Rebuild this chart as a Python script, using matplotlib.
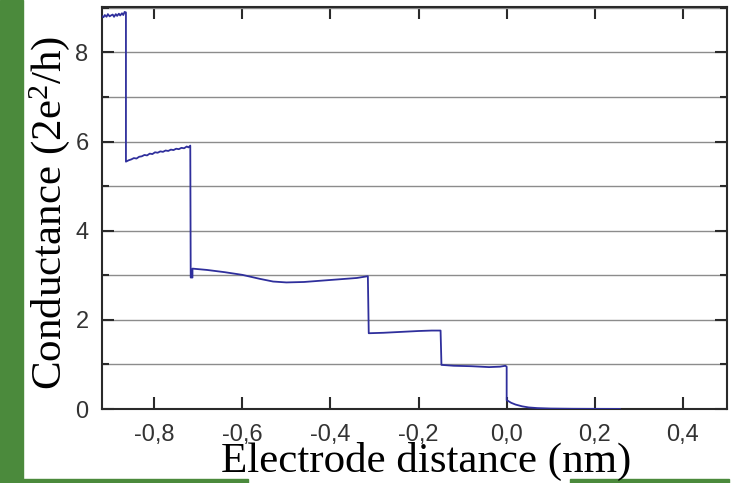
import matplotlib
matplotlib.use('Agg')
import matplotlib.pyplot as plt
from matplotlib.patches import Rectangle
from matplotlib.ticker import MultipleLocator, FuncFormatter

# conductance trace (distance in nm, G in 2e^2/h)
dist = [-0.919, -0.915, -0.912, -0.908, -0.905, -0.901, -0.898, -0.894, -0.891, -0.887,
        -0.884, -0.880, -0.877, -0.873, -0.870, -0.867, -0.865, -0.864,
        -0.864, -0.858, -0.852, -0.846, -0.840, -0.834, -0.828, -0.822, -0.816, -0.810,
        -0.804, -0.798, -0.792, -0.786, -0.780, -0.774, -0.768, -0.762, -0.756, -0.750,
        -0.744, -0.738, -0.732, -0.726, -0.722, -0.718,
        -0.717, -0.713, -0.713, -0.680, -0.640, -0.600, -0.560, -0.530, -0.500, -0.460,
        -0.420, -0.380, -0.340, -0.315,
        -0.313, -0.280, -0.240, -0.200, -0.170, -0.150,
        -0.148, -0.120, -0.080, -0.040, -0.015, -0.003,
        0.000, 0.000, 0.010, 0.020, 0.035, 0.050, 0.070, 0.100, 0.150, 0.200, 0.257]
cond = [8.82, 8.79, 8.84, 8.80, 8.86, 8.81, 8.83, 8.85, 8.80, 8.86,
        8.82, 8.87, 8.83, 8.88, 8.84, 8.91, 8.90, 8.90,
        5.55, 5.58, 5.60, 5.63, 5.62, 5.66, 5.67, 5.70, 5.69, 5.73,
        5.72, 5.76, 5.75, 5.78, 5.77, 5.80, 5.79, 5.82, 5.81, 5.84,
        5.83, 5.86, 5.85, 5.89, 5.87, 5.91,
        2.95, 2.95, 3.15, 3.12, 3.07, 3.01, 2.92, 2.86, 2.84, 2.85,
        2.88, 2.91, 2.94, 2.98,
        1.70, 1.71, 1.73, 1.75, 1.76, 1.76,
        0.99, 0.97, 0.96, 0.94, 0.95, 0.97,
        0.95, 0.20, 0.14, 0.10, 0.06, 0.035, 0.02, 0.01, 0.005, 0.003, 0.002]

x_ticks = [-0.8, -0.6, -0.4, -0.2, 0.0, 0.2, 0.4]
y_ticks = [0, 2, 4, 6, 8]

plt.rcParams['font.family'] = 'Liberation Sans'
plt.rcParams['mathtext.fontset'] = 'custom'
plt.rcParams['mathtext.rm'] = 'Liberation Serif'
plt.rcParams['mathtext.it'] = 'Liberation Serif:italic'

fig = plt.figure(figsize=(7.34, 4.83), dpi=100)

# green slide background around the white area
green = '#4b8a3c'
fig.patches.append(Rectangle((0, 0), 23 / 734, 1, transform=fig.transFigure, color=green, zorder=0))
fig.patches.append(Rectangle((0, 0), 248 / 734, 4 / 483, transform=fig.transFigure, color=green, zorder=0))
fig.patches.append(Rectangle((570 / 734, 0), 159 / 734, 4 / 483, transform=fig.transFigure, color=green, zorder=0))

ax = fig.add_axes([101.7 / 734, 1 - 409 / 483, (727 - 101.7) / 734, (409 - 7) / 483])
ax.plot(dist, cond, color='#2f2f9c', lw=1.3, zorder=3)

ax.set_xlim(-0.919, 0.50)
ax.set_ylim(0, 9.02)
ax.set_xticks(x_ticks)
ax.set_yticks(y_ticks)
ax.yaxis.set_minor_locator(MultipleLocator(1))
ax.xaxis.set_major_formatter(FuncFormatter(lambda v, p: ('%.1f' % v).replace('.', ',')))
ax.grid(True, axis='y', which='both', color='#8c8c8c', lw=1.0)

for s in ax.spines.values():
    s.set_linewidth(1.5)
    s.set_color('#2a2a2a')
ax.tick_params(which='major', direction='in', length=8.5, width=1.5, color='#2a2a2a',
               top=True, right=True, labelsize=17, labelcolor='#333333')
ax.tick_params(which='minor', direction='in', length=5, width=1.5, color='#2a2a2a',
               left=True, right=True)
ax.tick_params(axis='x', pad=10.5)
ax.tick_params(axis='y', pad=9.5)

fig.text(426 / 734, 1 - 472 / 483, 'Electrode distance (nm)', family='Liberation Serif',
         fontsize=31, ha='center', va='baseline')
fig.text(61 / 734, 1 - 213 / 483, 'Conductance (2e$^{2}$/h)', family='Liberation Serif',
         fontsize=31, ha='center', va='baseline', rotation=90, rotation_mode='anchor')

fig.savefig('out.png', dpi=100)
